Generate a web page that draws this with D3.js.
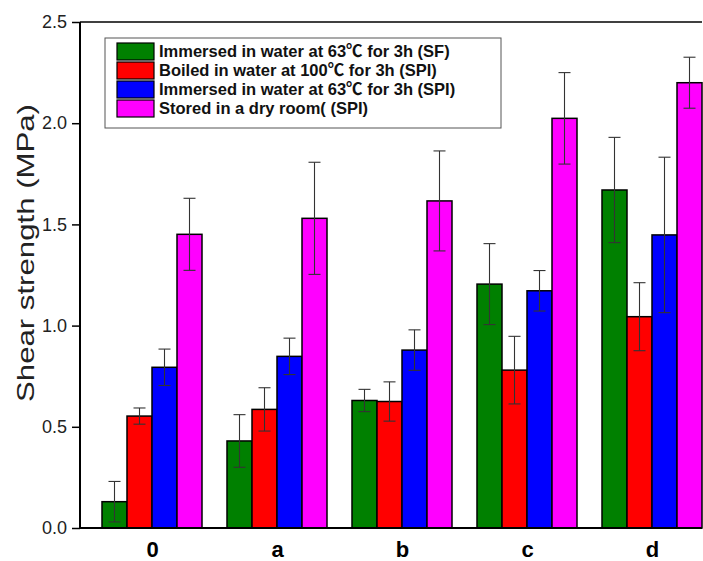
<!DOCTYPE html>
<html><head><meta charset="utf-8">
<script src="https://cdn.jsdelivr.net/npm/d3@7"></script>
<style>body{margin:0;background:#fff}svg{display:block}</style>
</head><body>
<script>
const categories = ["0", "a", "b", "c", "d"];
const seriesNames = [
  "Immersed in water at 63\u2103 for 3h (SF)",
  "Boiled in water at 100\u2103 for 3h (SPI)",
  "Immersed in water at 63\u2103 for 3h (SPI)",
  "Stored in a dry room( (SPI)"
];
const colors = ["#008000", "#ff0000", "#0000ff", "#ff00ff"];
const sfWater63 = [0.13, 0.43, 0.63, 1.205, 1.67];
const sfWater63Err = [0.10, 0.13, 0.055, 0.20, 0.26];
const spiBoiled100 = [0.553, 0.586, 0.625, 0.78, 1.044];
const spiBoiled100Err = [0.04, 0.107, 0.097, 0.167, 0.168];
const spiWater63 = [0.794, 0.848, 0.879, 1.172, 1.448];
const spiWater63Err = [0.09, 0.09, 0.10, 0.10, 0.384];
const spiDry = [1.451, 1.530, 1.616, 2.024, 2.20];
const spiDryErr = [0.178, 0.277, 0.247, 0.226, 0.126];
const yTicks = [0.0, 0.5, 1.0, 1.5, 2.0, 2.5];

const series = [
  {v: sfWater63, e: sfWater63Err},
  {v: spiBoiled100, e: spiBoiled100Err},
  {v: spiWater63, e: spiWater63Err},
  {v: spiDry, e: spiDryErr}
];

const FONT = "Arial, 'Liberation Sans', sans-serif";
const W = 703, H = 561;
const L = 80, R = 702, T = 22, B = 528;
const svg = d3.select("body").append("svg").attr("width", W).attr("height", H);

const x = d3.scaleLinear().domain([-0.576, 4.4]).range([L, R]);
const y = d3.scaleLinear().domain([0, 2.5]).range([B, T]);
const bw = 0.2;

// top frame
svg.append("line").attr("x1", L).attr("x2", R).attr("y1", T).attr("y2", T)
  .attr("stroke", "#000").attr("stroke-width", 1.5);

// bars
series.forEach((s, si) => {
  const g = svg.append("g");
  categories.forEach((c, ci) => {
    const x0 = x(ci - 0.4 + si * bw);
    const x1 = x(ci - 0.4 + (si + 1) * bw);
    g.append("rect").attr("x", x0).attr("y", y(s.v[ci]))
      .attr("width", x1 - x0).attr("height", y(0) - y(s.v[ci]))
      .attr("fill", colors[si]).attr("stroke", "#000").attr("stroke-width", 1.5);
  });
});
// error bars
series.forEach((s, si) => {
  categories.forEach((c, ci) => {
    const cx = x(ci - 0.4 + (si + 0.5) * bw);
    const hi = y(s.v[ci] + s.e[ci]), lo = y(s.v[ci] - s.e[ci]);
    const g = svg.append("g").attr("stroke", "#333").attr("stroke-width", 1.1);
    g.append("line").attr("x1", cx).attr("x2", cx).attr("y1", hi).attr("y2", lo);
    g.append("line").attr("x1", cx - 6).attr("x2", cx + 6).attr("y1", hi).attr("y2", hi);
    g.append("line").attr("x1", cx - 6).attr("x2", cx + 6).attr("y1", lo).attr("y2", lo);
  });
});

// y axis
const yAxis = svg.append("g").attr("transform", `translate(${L},0)`)
  .call(d3.axisLeft(y).tickValues(yTicks).tickFormat(d3.format(".1f")).tickSize(8).tickPadding(5));
yAxis.select(".domain").attr("stroke", "#000").attr("stroke-width", 2).attr("d", `M0,${T}V${B}`);
yAxis.selectAll(".tick line").attr("stroke", "#000").attr("stroke-width", 1.5);
yAxis.selectAll(".tick text").attr("font-family", FONT)
  .attr("font-size", 18).attr("fill", "#222");

// x axis
const xAxis = svg.append("g").attr("transform", `translate(0,${B})`)
  .call(d3.axisBottom(x).tickValues(d3.range(categories.length)).tickFormat(i => categories[i]).tickSize(0).tickPadding(13));
xAxis.select(".domain").attr("stroke", "#000").attr("stroke-width", 2.2).attr("d", `M${L},0H${R}`);
xAxis.selectAll(".tick text").attr("font-family", FONT)
  .attr("font-size", 22).attr("font-weight", "bold").attr("fill", "#000");

// y title
svg.append("text").attr("transform", `translate(34,253) rotate(-90)`)
  .attr("text-anchor", "middle").attr("font-family", FONT)
  .attr("font-size", 24).attr("textLength", 298).attr("lengthAdjust", "spacingAndGlyphs")
  .attr("fill", "#222").text("Shear strength (MPa)");

// legend
const lg = svg.append("g");
lg.append("rect").attr("x", 105).attr("y", 38).attr("width", 396).attr("height", 90)
  .attr("fill", "#fff").attr("stroke", "#555").attr("stroke-width", 1);
seriesNames.forEach((n, i) => {
  const yy = 43 + i * 19;
  lg.append("rect").attr("x", 117).attr("y", yy).attr("width", 37).attr("height", 17)
    .attr("fill", colors[i]).attr("stroke", "#000").attr("stroke-width", 1.2);
  lg.append("text").attr("x", 159).attr("y", yy + 14)
    .attr("font-family", "Arial, 'Liberation Sans', 'Noto Sans CJK SC', sans-serif").attr("font-size", 16.5)
    .attr("font-weight", "bold").attr("fill", "#111").text(n);
});
</script>
</body></html>
